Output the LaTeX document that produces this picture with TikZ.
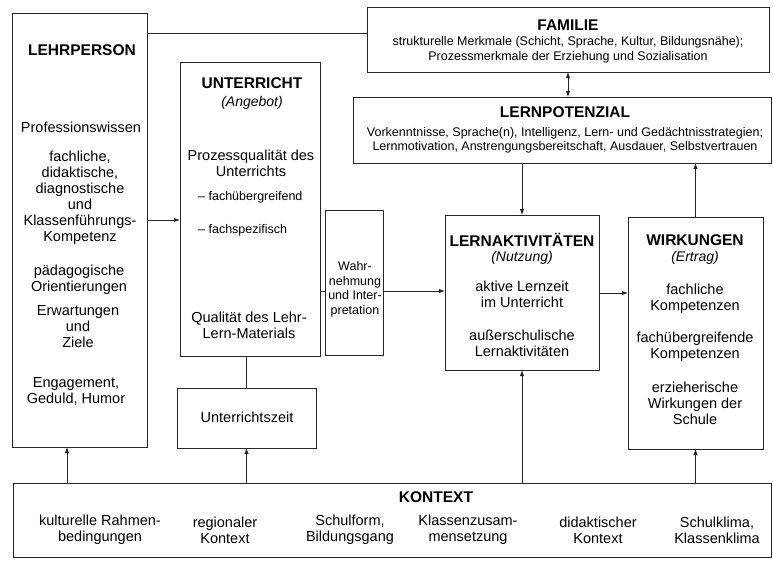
\documentclass[tikz,border=0pt]{standalone}
\usepackage{fontspec}
\setmainfont{Liberation Sans}
\usetikzlibrary{arrows.meta}
\begin{document}
\begin{tikzpicture}[x=1pt,y=-1pt,
  box/.style={draw=black!85, line width=1pt, inner sep=0pt, outer sep=0pt},
  ttl/.style={font={\fontsize{15.5}{17}\selectfont\bfseries}, inner sep=0pt},
  sub/.style={font={\fontsize{14}{16}\selectfont\itshape}, inner sep=0pt},
  body/.style={font={\fontsize{14.5}{16}\selectfont}, align=center, inner sep=0pt},
  small/.style={font={\fontsize{12.5}{14.5}\selectfont}, align=center, inner sep=0pt},
  arr/.style={-{Latex[length=6pt,width=4.5pt]}, line width=0.9pt, draw=black!85},
  darr/.style={{Latex[length=6pt,width=4.5pt]}-{Latex[length=6pt,width=4.5pt]}, line width=0.9pt, draw=black!85},
  ln/.style={line width=0.9pt, draw=black!85}]
\useasboundingbox (0,0) rectangle (773,560);
\fill[white] (0,0) rectangle (773,560);

% boxes
\node[box, minimum width=135pt, minimum height=434pt] (lehr) at (80,230) {};
\node[box, minimum width=140pt, minimum height=294pt] (unt) at (250,209) {};
\node[box, minimum width=139pt, minimum height=60pt] (uzeit) at (246.5,418) {};
\node[box, minimum width=58pt, minimum height=145pt] (wahr) at (354,282.5) {};
\node[box, minimum width=154pt, minimum height=155pt] (lak) at (522,292.5) {};
\node[box, minimum width=135pt, minimum height=232pt] (wirk) at (695.5,333) {};
\node[box, minimum width=402pt, minimum height=65pt] (fam) at (568,39.5) {};
\node[box, minimum width=418pt, minimum height=66pt] (lpot) at (562,130) {};
\node[box, minimum width=758pt, minimum height=74pt] (kon) at (392,520) {};

% LEHRPERSON
\node[ttl] (lehrT) at (82,50) {LEHRPERSON};
\node[body] (lehr1) at (81,127) {Professionswissen};
\node[body] (lehr2) at (80,198) {fachliche,\\didaktische,\\diagnostische\\und\\Klassenführungs-\\Kompetenz};
\node[body] (lehr3) at (79,279.5) {pädagogische\\Orientierungen};
\node[body] (lehr4) at (78,326.5) {Erwartungen\\und\\Ziele};
\node[body] (lehr5) at (76,391.5) {Engagement,\\Geduld, Humor};

% UNTERRICHT
\node[ttl] (untT) at (252,83) {UNTERRICHT};
\node[sub] (untS) at (252,103) {(Angebot)};
\node[body] (unt1) at (251,163.5) {Prozessqualität des\\Unterrichts};
\node[small, anchor=west] (unt2) at (198,197) {– fachübergreifend};
\node[small, anchor=west] (unt3) at (198,230) {– fachspezifisch};
\node[body] (unt4) at (249,325) {Qualität des Lehr-\\Lern-Materials};

\node[body] (uzeitT) at (247,417) {Unterrichtszeit};

% Wahrnehmung
\node[small] (wahrT) at (355,289.5) {Wahr-\\nehmung\\und Inter-\\pretation};

% LERNAKTIVITAETEN
\node[ttl] (lakT) at (522,240) {LERNAKTIVITÄTEN};
\node[sub] (lakS) at (522,258) {(Nutzung)};
\node[body] (lak1) at (522,294.5) {aktive Lernzeit\\im Unterricht};
\node[body] (lak2) at (522,343) {außerschulische\\Lernaktivitäten};

% WIRKUNGEN
\node[ttl] (wirkT) at (695,240) {WIRKUNGEN};
\node[sub] (wirkS) at (695,258) {(Ertrag)};
\node[body] (wirk1) at (695,298.5) {fachliche\\Kompetenzen};
\node[body] (wirk2) at (695,346.5) {fachübergreifende\\Kompetenzen};
\node[body] (wirk3) at (695,403.5) {erzieherische\\Wirkungen der\\Schule};

% FAMILIE
\node[ttl] (famT) at (568,25) {FAMILIE};
\node[small] (fam1) at (568,50) {strukturelle Merkmale (Schicht, Sprache, Kultur, Bildungsnähe);\\Prozessmerkmale der Erziehung und Sozialisation};

% LERNPOTENZIAL
\node[ttl] (lpotT) at (565,112) {LERNPOTENZIAL};
\node[small] (lpot1) at (565,140.5) {Vorkenntnisse, Sprache(n), Intelligenz, Lern- und Gedächtnisstrategien;\\Lernmotivation, Anstrengungsbereitschaft, Ausdauer, Selbstvertrauen};

% KONTEXT
\node[ttl] (konT) at (436,497.5) {KONTEXT};
\node[body] (kon1) at (100,530) {kulturelle Rahmen-\\bedingungen};
\node[body] (kon2) at (225,530) {regionaler\\Kontext};
\node[body] (kon3) at (350,530) {Schulform,\\Bildungsgang};
\node[body] (kon4) at (468,530) {Klassenzusam-\\mensetzung};
\node[body] (kon5) at (598,530) {didaktischer\\Kontext};
\node[body] (kon6) at (717,530) {Schulklima,\\Klassenklima};

% connectors
\coordinate (yt) at (0,33);
\coordinate (ya) at (0,220);
\coordinate (yb) at (0,291);
\coordinate (yc) at (0,293);
\coordinate (xk) at (67,0);
\draw[ln] (lehr.east |- yt) -- (fam.west |- yt);
\draw[arr] (lehr.east |- ya) -- (unt.west |- ya);
\draw[ln] (unt.east |- yb) -- (wahr.west |- yb);
\draw[arr] (wahr.east |- yb) -- (lak.west |- yb);
\draw[arr] (lak.east |- yc) -- (wirk.west |- yc);
\draw[darr] (fam.south) -- (fam.south |- lpot.north);
\draw[arr] (lpot.south -| lak.north) -- (lak.north);
\draw[arr] (wirk.north) -- (wirk.north |- lpot.south);
\draw[ln] (uzeit.north) -- (uzeit.north |- unt.south);
\draw[arr] (kon.north -| xk) -- (lehr.south -| xk);
\draw[arr] (kon.north -| uzeit.south) -- (uzeit.south);
\draw[arr] (kon.north -| lak.south) -- (lak.south);
\draw[arr] (kon.north -| wirk.south) -- (wirk.south);
\end{tikzpicture}
\end{document}
